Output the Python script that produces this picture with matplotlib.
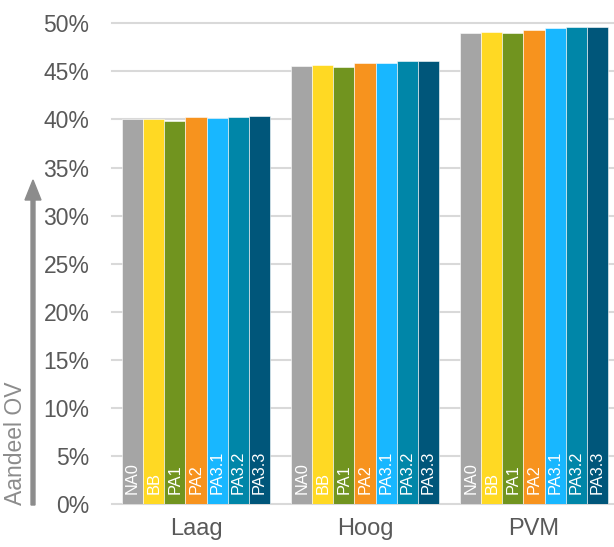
import numpy as np
import matplotlib
matplotlib.use("Agg")
import matplotlib.pyplot as plt
from matplotlib.ticker import PercentFormatter

plt.rcParams['font.family'] = ['Liberation Sans', 'DejaVu Sans']

groups = ["Laag", "Hoog", "PVM"]
series = ["NA0", "BB", "PA1", "PA2", "PA3.1", "PA3.2", "PA3.3"]
colors = ["#A5A5A5", "#FFD923", "#71941F", "#F7931E", "#18B7FF", "#0086A8", "#00567A"]
# aandeel OV per variant, in procent (Laag, Hoog, PVM)
values = {
    "NA0":   [40.00, 45.55, 48.99],
    "BB":    [40.07, 45.62, 49.09],
    "PA1":   [39.86, 45.49, 48.99],
    "PA2":   [40.30, 45.90, 49.33],
    "PA3.1": [40.20, 45.87, 49.48],
    "PA3.2": [40.26, 46.04, 49.61],
    "PA3.3": [40.33, 46.04, 49.61],
}
yticks = [0, 5, 10, 15, 20, 25, 30, 35, 40, 45, 50]

fig = plt.figure(figsize=(6.14, 5.47), dpi=100)
W, H = 614, 547
ax = fig.add_axes([111.5 / W, 43 / H, 507 / W, 480.7 / H])

x = np.arange(len(groups))
bw = 0.125
for i, name in enumerate(series):
    pos = x - 3 * bw + i * bw
    ax.bar(pos, values[name], width=bw, color=colors[i], edgecolor="white", linewidth=0.4, zorder=3)
    for p in pos:
        ax.annotate(name, (p, 0), xytext=(0, 10), textcoords="offset pixels",
                    rotation=90, ha="center", va="bottom", color="white", fontsize=11.8, zorder=4)

ax.set_xlim(-0.5, 2.5)
ax.set_ylim(0, 50)
ax.set_yticks(yticks)
ax.yaxis.set_major_formatter(PercentFormatter(decimals=0))
ax.set_xticks(x)
ax.set_xticklabels(groups)
ax.tick_params(axis="y", length=0, pad=16, labelsize=16.5, labelcolor="#595959")
ax.tick_params(axis="x", length=0, pad=10, labelsize=17, labelcolor="#595959")
for s in ax.spines.values():
    s.set_visible(False)
ax.grid(axis="y", color="#D9D9D9", linewidth=1.5, zorder=0)
for gl in ax.yaxis.get_gridlines():
    gl.set_clip_on(False)

# y-as label met pijl
fig.patches.append(matplotlib.patches.FancyArrow(
    33 / W, (H - 505) / H, 0, (505 - 180) / H, width=3.5 / H, head_width=16 / W,
    head_length=20 / H, length_includes_head=True, color="#8C8C8C",
    transform=fig.transFigure, figure=fig))
fig.text(16 / W, (H - 443) / H, "Aandeel OV", rotation=90, ha="center", va="center",
         fontsize=16.5, color="#8C8C8C")

fig.savefig("out.png", dpi=100)
